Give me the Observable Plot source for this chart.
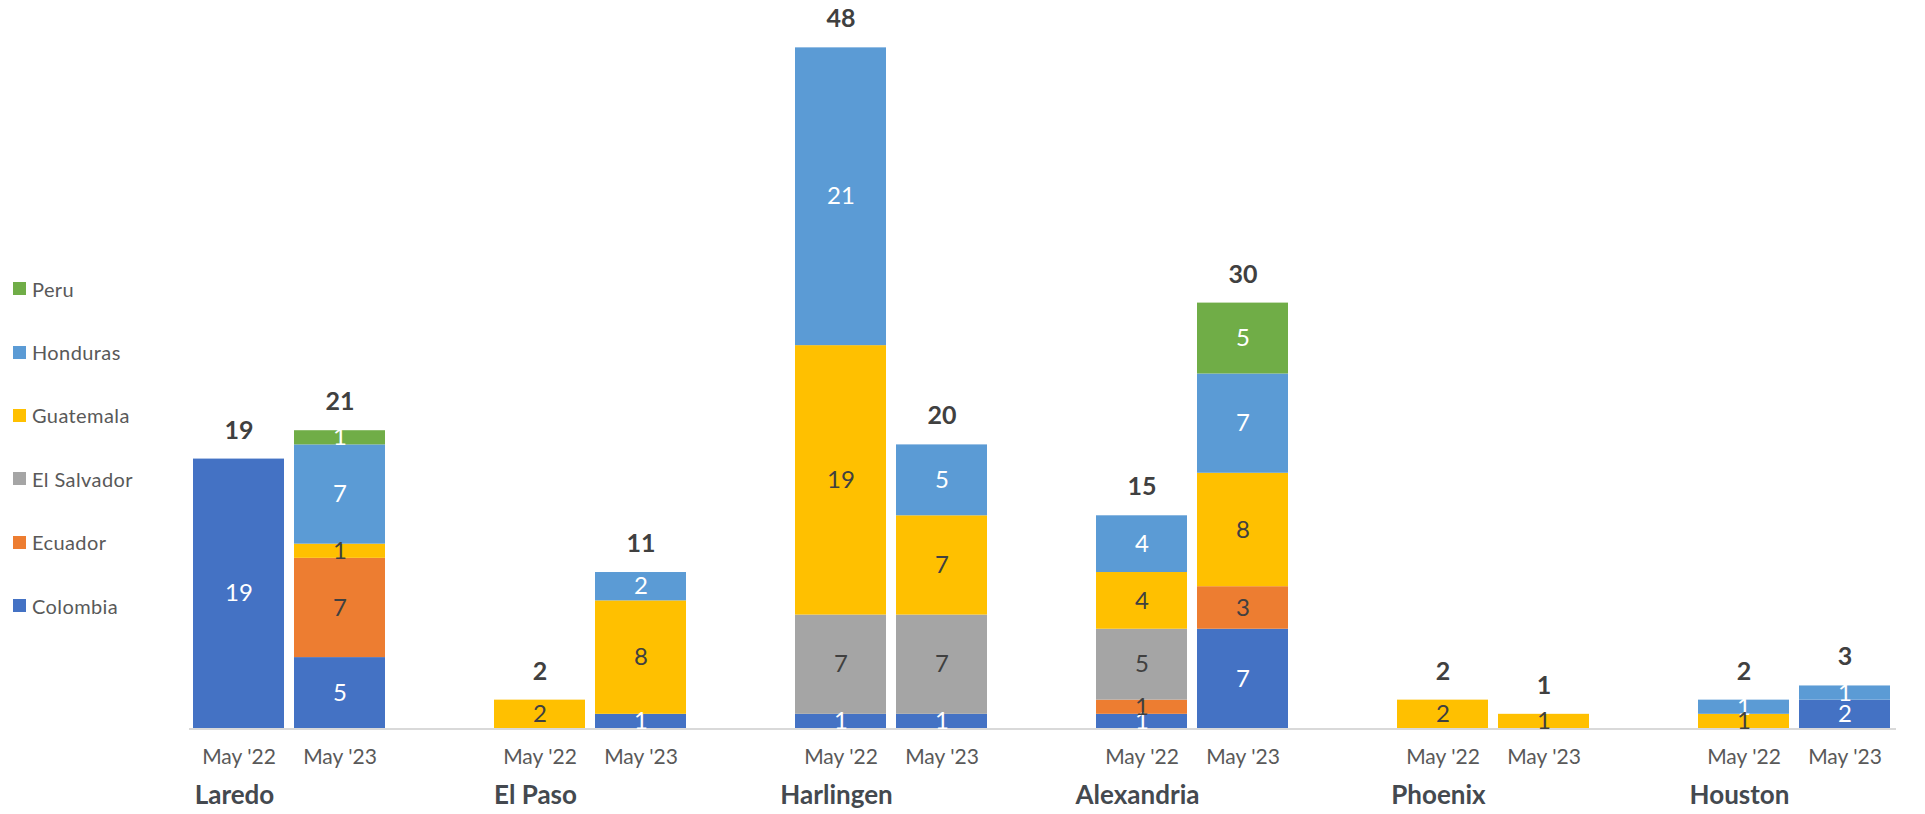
<!DOCTYPE html>
<html><head><meta charset="utf-8">
<script src="https://cdn.jsdelivr.net/npm/d3@7"></script>
<script src="https://cdn.jsdelivr.net/npm/@observablehq/plot@0.6"></script>
<style>
body{margin:0;background:#fff;font-family:Lato,"Open Sans",sans-serif;}
#wrap{position:relative;width:1925px;height:814px;overflow:hidden;}
#legend{position:absolute;left:13px;top:257px;}
.item{height:63.4px;display:flex;align-items:center;font-size:20px;color:#595959;letter-spacing:0.4px;}
.sw{width:13px;height:13px;margin-right:6px;flex:none;}
</style></head><body><div id="wrap"><div id="legend"></div></div>
<script>
const cities = ["Laredo","El Paso","Harlingen","Alexandria","Phoenix","Houston"];
const periods = ["May '22","May '23"];
const countries = ["Colombia","Ecuador","El Salvador","Guatemala","Honduras","Peru"];
const colors = ["#4472C4","#ED7D31","#A5A5A5","#FFC000","#5B9BD5","#70AD47"];
// values ordered city by city, May '22 then May '23
const colombia   = [19,5, 0,1, 1,1, 1,7, 0,0, 0,2];
const ecuador    = [0,7, 0,0, 0,0, 1,3, 0,0, 0,0];
const elSalvador = [0,0, 0,0, 7,7, 5,0, 0,0, 0,0];
const guatemala  = [0,1, 2,8, 19,7, 4,8, 2,1, 1,0];
const honduras   = [0,7, 0,2, 21,5, 4,7, 0,0, 1,1];
const peru       = [0,1, 0,0, 0,0, 0,5, 0,0, 0,0];
const totals     = [19,21, 2,11, 48,20, 15,30, 2,1, 2,3];
const whiteLabel = ["Colombia","Honduras","Peru"];

const series = [colombia, ecuador, elSalvador, guatemala, honduras, peru];
const rows = [];
const totalRows = [];
cities.forEach((city, ci) => {
  periods.forEach((period, pi) => {
    const k = ci * 2 + pi;
    countries.forEach((country, si) => {
      const v = series[si][k];
      if (v > 0) rows.push({city, period, country, value: v});
    });
    totalRows.push({city, period, total: totals[k]});
  });
});

const font = "Lato, 'Open Sans', sans-serif";
const plot = Plot.plot({
  width: 1925, height: 814,
  marginLeft: 191, marginRight: 34, marginTop: 19, marginBottom: 86,
  fx: {domain: cities, paddingInner: 0.3636, paddingOuter: 0, label: null},
  x: {domain: periods, paddingInner: 0.1, paddingOuter: 0, label: null},
  y: {domain: [0, 50], axis: null},
  color: {domain: countries, range: colors},
  style: {fontFamily: font, background: "white", overflow: "visible"},
  marks: [
    Plot.barY(rows, {fx: "city", x: "period", y: "value", z: "country", fill: "country"}),
    Plot.text(rows, Plot.stackY({fx: "city", x: "period", y: "value", z: "country",
      text: d => whiteLabel.includes(d.country) ? d.value : null,
      fill: "white", fontSize: 24})),
    Plot.text(rows, Plot.stackY({fx: "city", x: "period", y: "value", z: "country",
      text: d => whiteLabel.includes(d.country) ? null : d.value,
      fill: "#404040", fontSize: 24})),
    Plot.text(totalRows, {fx: "city", x: "period", y: "total", text: "total",
      dy: -28.5, fontWeight: "bold", fontSize: 25, fill: "#404040"}),
    Plot.axisX({tickSize: 0, tickPadding: 21, fontSize: 21, fill: "#595959", label: null}),
    Plot.axisFx({anchor: "bottom", tickSize: 0, tickPadding: 57, fontSize: 26, fontWeight: "bold",
      fill: "#44494f", dx: -55, label: null})
  ]
});

// baseline spanning all groups, from the plot's own scales
const fx = plot.scale("fx"), y = plot.scale("y");
const x0 = fx.apply(cities[0]) - 4;
const x1 = fx.apply(cities[cities.length - 1]) + fx.bandwidth + 6;
const y0 = y.apply(0);
d3.select(plot).insert("line", ":first-child")
  .attr("x1", x0).attr("x2", x1).attr("y1", y0 + 1).attr("y2", y0 + 1)
  .attr("stroke", "#D9D9D9").attr("stroke-width", 2);

document.getElementById("wrap").appendChild(plot);

const legend = document.getElementById("legend");
countries.slice().reverse().forEach(c => {
  const item = document.createElement("div");
  item.className = "item";
  const sw = document.createElement("span");
  sw.className = "sw";
  sw.style.background = colors[countries.indexOf(c)];
  item.appendChild(sw);
  item.appendChild(document.createTextNode(c));
  legend.appendChild(item);
});
document.getElementById("wrap").appendChild(legend);
</script></body></html>
